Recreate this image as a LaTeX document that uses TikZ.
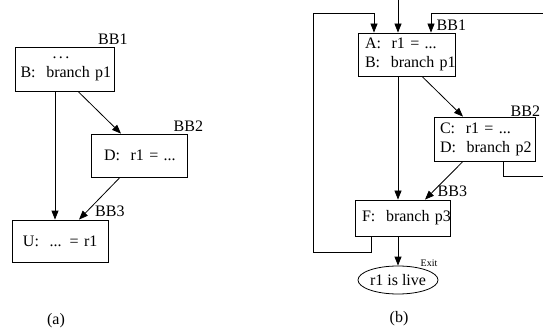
\documentclass[tikz,border=0pt]{standalone}
\usepackage{fontspec}
\setmainfont{Liberation Serif}
\usetikzlibrary{arrows.meta,shapes.geometric}
\begin{document}
\begin{tikzpicture}[x=1pt,y=-1pt,
  every node/.style={font=\fontsize{16}{19}\selectfont},
  bb/.style={draw,line width=0.8pt,rectangle,inner ysep=0pt,align=left},
  bblabel/.style={anchor=base,inner sep=0pt},
  arr/.style={line width=0.8pt,-{Triangle[length=9pt,width=7pt]}},
  ln/.style={line width=0.8pt}]
\useasboundingbox (0,0) rectangle (543,331);
% ---------- (a) ----------
\node[bb,minimum height=44pt,inner xsep=5pt,text width=89pt] (a1) at (65,69)
  {\mbox{\hspace*{32pt}.\kern2.5pt.\kern2.5pt.}\\\mbox{B:\ \ branch p1}};
\node[bb,minimum height=43pt,inner xsep=13pt,text width=70pt] (a2) at (139,155.5)
  {\mbox{D:\ \ r1 = ...}};
\node[bb,minimum height=42pt,inner xsep=11pt,text width=74pt] (a3) at (60,241)
  {\mbox{U:\ \ ... = r1}};
\node[bblabel] (a1l) at ([xshift=-2pt,yshift=2pt]a1.north east) {BB1};
\node[bblabel] (a2l) at ([xshift=1pt,yshift=2pt]a2.north east) {BB2};
\node[bblabel] (a3l) at ([xshift=1.5pt,yshift=3pt]a3.north east) {BB3};
\draw[arr] ([xshift=-10pt]a1.south) -- ([xshift=-5pt]a3.north);
\draw[arr] ([xshift=13pt]a1.south) -- ([xshift=-18pt]a2.north);
\draw[arr] ([xshift=-19pt]a2.south) -- ([xshift=19pt]a3.north);
\node (capa) at (56,321) {(a)};
% ---------- (b) ----------
\node[bb,minimum height=43pt,inner xsep=7pt,text width=83pt] (b1) at (406.5,54.5)
  {\mbox{A:\ \ r1 = ...}\\\mbox{B:\ \ branch p1}};
\node[bb,minimum height=44pt,inner xsep=6pt,text width=89pt] (b2) at (484.5,139)
  {\mbox{C:\ \ r1 = ...}\\\mbox{D:\ \ branch p2}};
\node[bb,minimum height=36pt,inner xsep=7pt,text width=81pt] (b3) at (402.5,218)
  {\mbox{F:\ \ branch p3}};
\node[draw,ellipse,line width=0.8pt,minimum width=80pt,minimum height=28pt,inner sep=0pt] (ex) at (398,280) {r1 is live};
\node[anchor=base,inner sep=0pt,font=\fontsize{10}{12}\selectfont] (exl) at (429,266) {Exit};
\node[bblabel] (b1l) at ([xshift=-4pt,yshift=2.5pt]b1.north east) {BB1};
\node[bblabel] (b2l) at ([xshift=-10pt,yshift=0pt]b2.north east) {BB2};
\node[bblabel] (b3l) at ([xshift=2pt,yshift=3pt]b3.north east) {BB3};
\coordinate (in) at (398,-2);
\coordinate (L1) at (313,252);
\coordinate (L2) at (313,13);
\coordinate (R1) at (548,176);
\coordinate (R2) at (548,13);
\draw[arr] (in) -- ([xshift=-8.5pt]b1.north);
\draw[arr] ([xshift=-31.5pt]b3.south) |- (L1) -- (L2) -| ([xshift=-32.5pt]b1.north);
\draw[arr] ([xshift=18.5pt]b2.south) |- (R1) -- (R2) -| ([xshift=24.5pt]b1.north);
\draw[arr] ([xshift=-8.5pt]b1.south) -- ([xshift=-4.5pt]b3.north);
\draw[arr] ([xshift=15.5pt]b1.south) -- ([xshift=-21.5pt]b2.north);
\draw[arr] ([xshift=-21.5pt]b2.south) -- ([xshift=22.5pt]b3.north);
\draw[arr] ([xshift=-4.5pt]b3.south) -- (ex.north);
\node (capb) at (399,319) {(b)};
\end{tikzpicture}
\end{document}
